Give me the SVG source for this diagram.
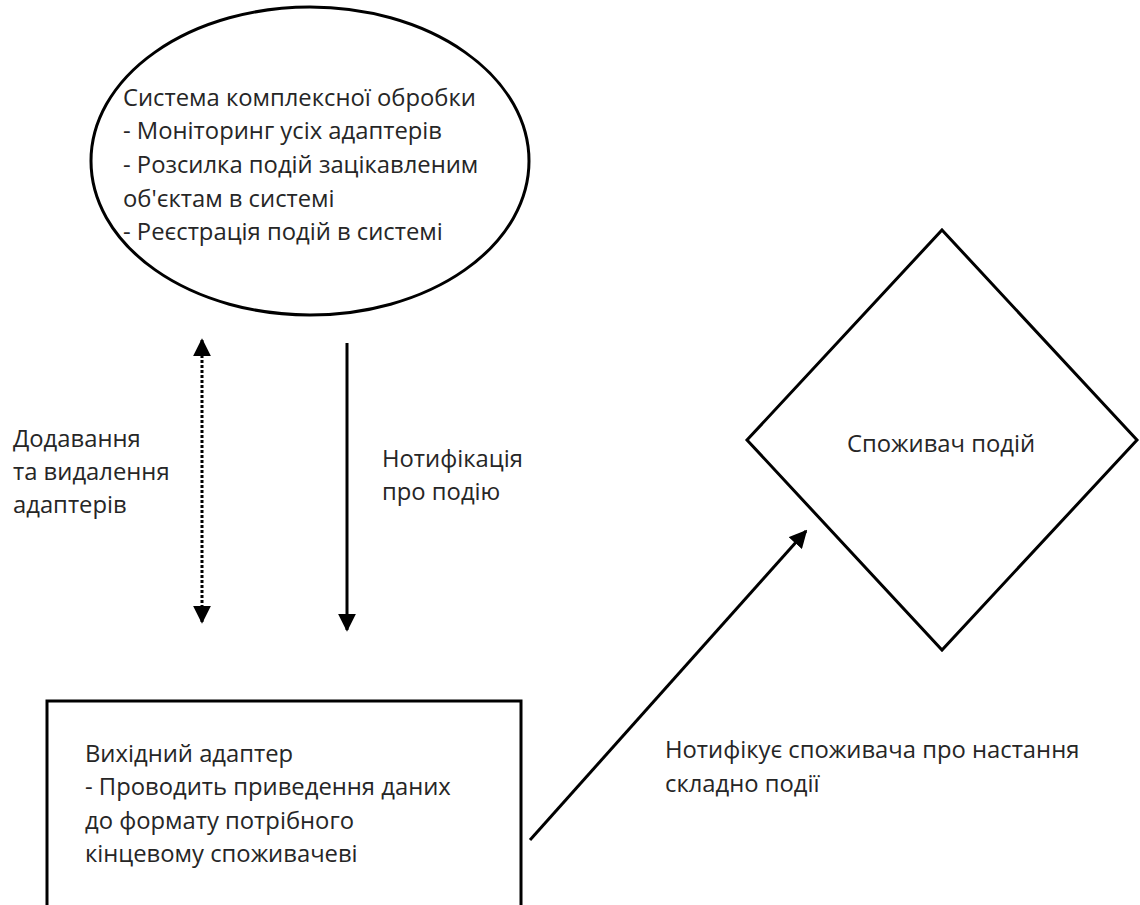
<svg xmlns="http://www.w3.org/2000/svg" width="1140" height="905" viewBox="0 0 1140 905">
  <style>
    .shape { fill: #ffffff; stroke: #000000; stroke-width: 3; }
    .lbl { font-family: "Open Sans", "Noto Sans", "DejaVu Sans", sans-serif; font-size: 23.8px; fill: #262626; }
    .conn { stroke: #000000; stroke-width: 3; fill: none; }
    .dotted { stroke-dasharray: 3 2; }
  </style>
  <defs>
    <marker id="arrowEnd" viewBox="0 0 10 10" refX="9" refY="5" markerWidth="6" markerHeight="6" markerUnits="strokeWidth" orient="auto">
      <path d="M0,0 L10,5 L0,10 Z" fill="#000000"/>
    </marker>
    <marker id="arrowStart" viewBox="0 0 10 10" refX="1" refY="5" markerWidth="6" markerHeight="6" markerUnits="strokeWidth" orient="auto">
      <path d="M10,0 L0,5 L10,10 Z" fill="#000000"/>
    </marker>
  </defs>

  <rect width="1140" height="905" fill="#ffffff"/>

  <g id="node-processing">
    <ellipse class="shape" cx="310" cy="161" rx="219" ry="154"/>
    <text class="lbl">
      <tspan x="123" y="106">Система комплексної обробки</tspan>
      <tspan x="123" y="139">- Моніторинг усіх адаптерів</tspan>
      <tspan x="123" y="173">- Розсилка подій зацікавленим</tspan>
      <tspan x="123" y="207">об'єктам в системі</tspan>
      <tspan x="123" y="240">- Реєстрація подій в системі</tspan>
    </text>
  </g>

  <g id="node-output-adapter">
    <rect class="shape" x="47" y="701" width="474" height="230"/>
    <text class="lbl">
      <tspan x="85" y="762">Вихідний адаптер</tspan>
      <tspan x="85" y="795">- Проводить приведення даних</tspan>
      <tspan x="85" y="829">до формату потрібного</tspan>
      <tspan x="85" y="862">кінцевому споживачеві</tspan>
    </text>
  </g>

  <g id="node-consumer">
    <polygon class="shape" points="942,230 1137,440 942,650 747,440"/>
    <text class="lbl" x="941" y="452" text-anchor="middle">Споживач подій</text>
  </g>

  <g id="connectors">
    <line class="conn dotted" x1="202" y1="340" x2="202" y2="622" marker-start="url(#arrowStart)" marker-end="url(#arrowEnd)"/>
    <line class="conn" x1="347" y1="343" x2="347" y2="630" marker-end="url(#arrowEnd)"/>
    <line class="conn" x1="530" y1="840" x2="806" y2="531" marker-end="url(#arrowEnd)"/>
  </g>

  <g id="connector-labels">
    <text class="lbl">
      <tspan x="13" y="447">Додавання</tspan>
      <tspan x="13" y="480">та видалення</tspan>
      <tspan x="13" y="513">адаптерів</tspan>
    </text>
    <text class="lbl">
      <tspan x="382" y="467">Нотифікація</tspan>
      <tspan x="382" y="500">про подію</tspan>
    </text>
    <text class="lbl">
      <tspan x="665" y="758">Нотифікує споживача про настання</tspan>
      <tspan x="665" y="792">складно події</tspan>
    </text>
  </g>
</svg>
